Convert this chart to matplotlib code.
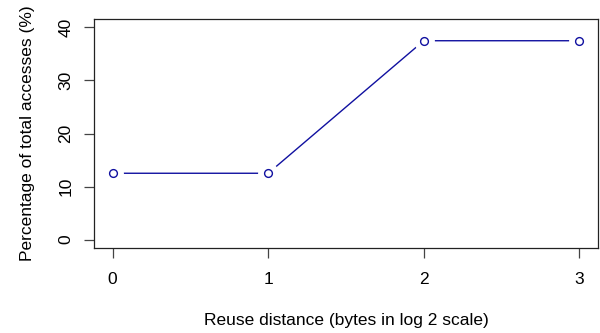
import matplotlib.pyplot as plt

plt.rcParams['font.family'] = ['Liberation Sans', 'DejaVu Sans']

reuse_distance = [0, 1, 2, 3]
pct_accesses = [12.5, 12.5, 37.5, 37.5]
x_ticks = [0, 1, 2, 3]
y_ticks = [0, 10, 20, 30, 40]

fig = plt.figure(figsize=(6, 3.33), dpi=100)
ax = fig.add_axes([94 / 600, 85 / 333, 504 / 600, 229 / 333])

line_col = '#1010a0'
# line with gaps around the points, like R's type="b"
ax.plot(reuse_distance, pct_accesses, color=line_col, lw=1, zorder=1)
ax.plot(reuse_distance, pct_accesses, 'o', ms=15, mfc='white', mec='none', zorder=2)
ax.plot(reuse_distance, pct_accesses, 'o', ms=5.6, mfc='white', mec=line_col, mew=1, zorder=3)

ax.set_xlim(-0.12, 3.12)
ax.set_ylim(-1.6, 41.6)
ax.set_xticks(x_ticks)
ax.set_yticks(y_ticks)
ax.tick_params(length=7, width=0.9, color='#444444', labelsize=12.5)
ax.tick_params(axis='x', pad=10)
ax.tick_params(axis='y', pad=8)
for lab in ax.get_yticklabels():
    lab.set_rotation(90)
    lab.set_va('center')

for s in ax.spines.values():
    s.set_linewidth(0.9)
    s.set_color('#222222')

ax.set_xlabel('Reuse distance (bytes in log 2 scale)', fontsize=12.5, labelpad=19)
ax.set_ylabel('Percentage of total accesses (%)', fontsize=12.5, labelpad=17)

plt.savefig('out.png', dpi=100)
